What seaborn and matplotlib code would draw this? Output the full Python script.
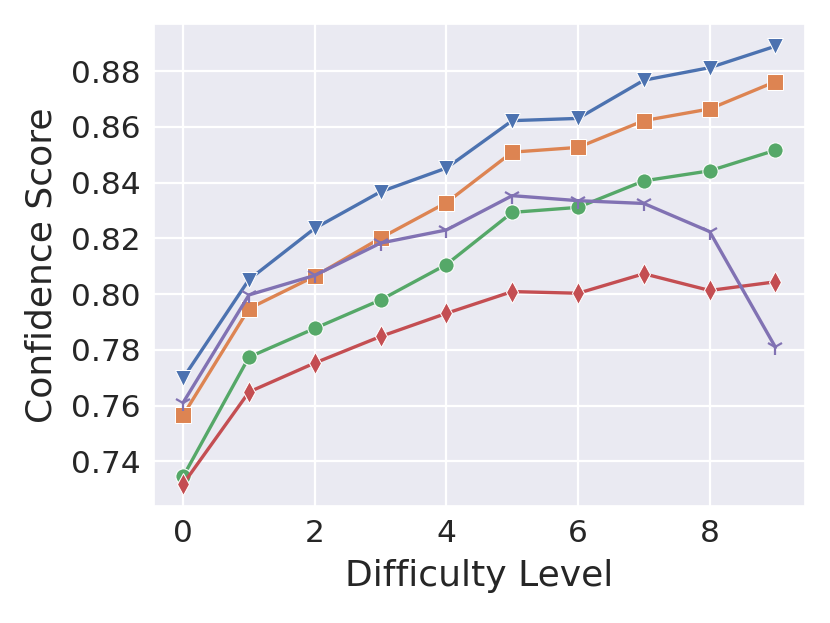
import matplotlib
matplotlib.use("Agg")
import matplotlib.pyplot as plt
import seaborn as sns
import numpy as np

FONT_SIZE_TICKS = 22.5
FONT_SIZE_AXES = 26

levels = np.arange(10)

series_a = [0.7699, 0.8052, 0.8236, 0.8367, 0.8452, 0.8622, 0.8630, 0.8767, 0.8812, 0.8889]
series_b = [0.7566, 0.7948, 0.8064, 0.8201, 0.8328, 0.8509, 0.8526, 0.8622, 0.8664, 0.8762]
series_c = [0.7346, 0.7774, 0.7877, 0.7979, 0.8106, 0.8293, 0.8311, 0.8406, 0.8442, 0.8516]
series_d = [0.7319, 0.7649, 0.7753, 0.7848, 0.7931, 0.8009, 0.8003, 0.8073, 0.8013, 0.8044]
series_e = [0.7611, 0.7997, 0.8067, 0.8183, 0.8230, 0.8353, 0.8335, 0.8325, 0.8224, 0.7809]

sns.set_theme(style="darkgrid")
palette = sns.color_palette("deep")

fig, ax = plt.subplots(figsize=(8.3, 6.23), dpi=100)
fig.subplots_adjust(left=0.185, right=0.97, top=0.961, bottom=0.188)

styles = [
    (series_a, "v", palette[0]),
    (series_b, "s", palette[1]),
    (series_c, "o", palette[2]),
    (series_d, "d", palette[3]),
    (series_e, "1", palette[4]),
]

for vals, mk, col in styles:
    kw = dict(markersize=11, markeredgewidth=0.75)
    if mk == "1":
        kw = dict(markersize=12, markeredgewidth=1.6, markeredgecolor=col)
    sns.lineplot(x=levels, y=vals, marker=mk, color=col, linewidth=2.4, ax=ax, **kw)

ax.set_xlabel("Difficulty Level", fontsize=FONT_SIZE_AXES, labelpad=8)
ax.set_ylabel("Confidence Score", fontsize=FONT_SIZE_AXES, labelpad=9)
ax.set_xticks([0, 2, 4, 6, 8])
ax.set_yticks([0.74, 0.76, 0.78, 0.80, 0.82, 0.84, 0.86, 0.88])
ax.tick_params(labelsize=FONT_SIZE_TICKS)
ax.grid(linewidth=1.6)

fig.savefig("out.png", dpi=100)
